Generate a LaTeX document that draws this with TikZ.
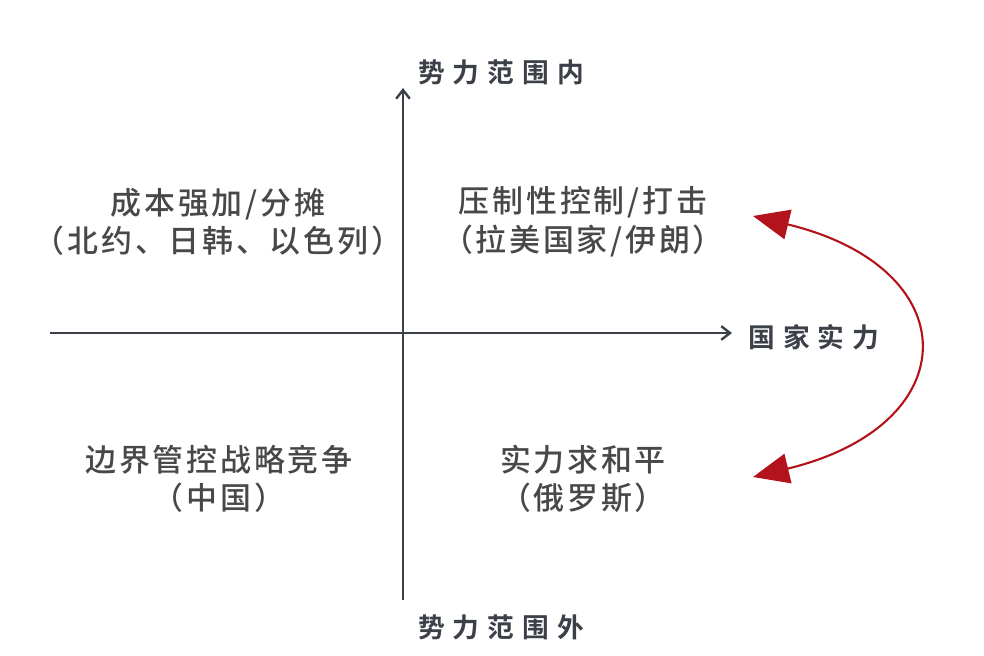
\documentclass[tikz,border=0pt]{standalone}
\usepackage{fontspec}
\usetikzlibrary{arrows.meta}
\newfontfamily\quadfont[LetterSpace=9]{Noto Sans CJK SC Medium}
\newfontfamily\axisfont[LetterSpace=30]{Noto Sans CJK SC Bold}
\definecolor{axisgray}{HTML}{3C4048}
\definecolor{textgray}{HTML}{484848}
\definecolor{arrowred}{HTML}{B3141C}

\begin{document}
\begin{tikzpicture}[x=0.025cm, y=-0.025cm,
    quadrant/.style={align=center, text=textgray, font=\quadfont\fontsize{22}{27.5}\selectfont},
    axislabel/.style={text=axisgray, font=\axisfont\fontsize{19}{24}\selectfont, inner sep=0pt},
    axisline/.style={draw=axisgray, line width=1.7pt, -{Straight Barb[length=0.22cm, width=0.34cm]}}]
    \useasboundingbox (0,0) rectangle (984,656);

    % axes
    \coordinate (vbot) at (403,600);
    \coordinate (vtop) at (403,88);
    \coordinate (hleft) at (50,333);
    \coordinate (hright) at (732,333);
    \draw[axisline] (vbot) -- (vtop);
    \draw[axisline] (hleft) -- (hright);

    \node (inside) [axislabel, anchor=west] at (418,72) {势力范围内};
    \node (outside) [axislabel, anchor=west] at (418,627) {势力范围外};
    \node (power) [axislabel, anchor=west] at (748,337) {国家实力};

    % quadrants
    \node (cost) [quadrant] at (218,222) {成本强加/分摊\\（北约、日韩、以色列）};
    \node (suppress) [quadrant] at (583,222) {压制性控制/打击\\（拉美国家/伊朗）};
    \node (border) [quadrant] at (219,479) {边界管控战略竞争\\（中国）};
    \node (peace) [quadrant] at (583,479) {实力求和平\\（俄罗斯）};

    % red double arrow
    \coordinate (upper) at (753,216);
    \coordinate (lower) at (753,477);
    \draw[arrowred, line width=1.5pt, {Triangle[length=0.9cm, width=0.75cm]}-{Triangle[length=0.9cm, width=0.75cm]}]
        (upper) .. controls (968,268) and (968,425) .. (lower);
\end{tikzpicture}
\end{document}
